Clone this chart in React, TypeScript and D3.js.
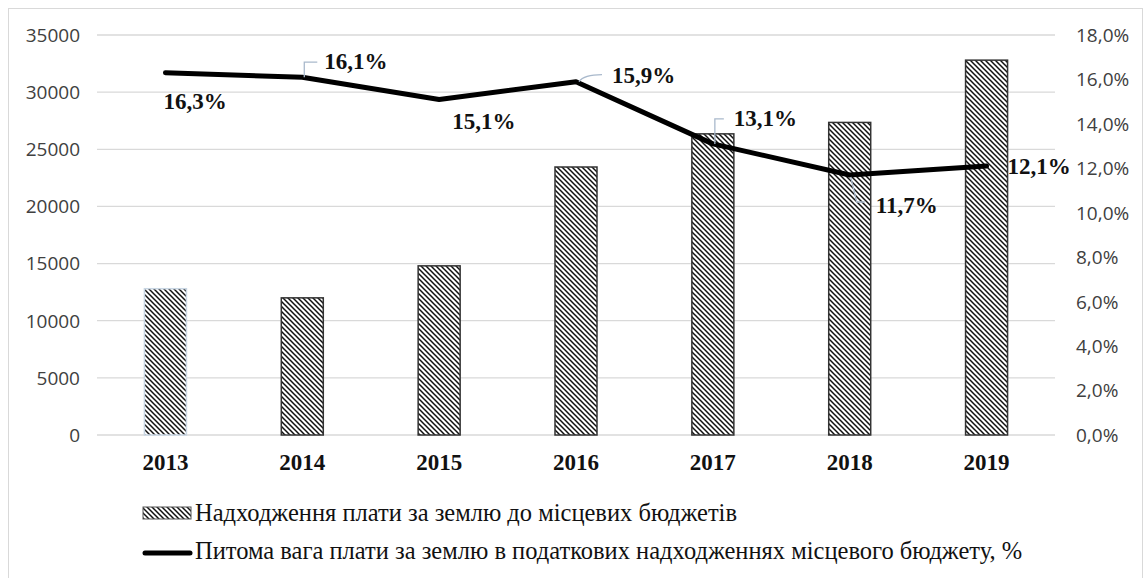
import React from "react";
import * as d3 from "d3";

const years = ["2013", "2014", "2015", "2016", "2017", "2018", "2019"];
const landPayments = [12800, 12000, 14800, 23450, 26350, 27350, 32800];
const shares = [16.3, 16.1, 15.1, 15.9, 13.1, 11.7, 12.1];
const shareLabels = ["16,3%", "16,1%", "15,1%", "15,9%", "13,1%", "11,7%", "12,1%"];
const leftTicks = [0, 5000, 10000, 15000, 20000, 25000, 30000, 35000];
const rightTicks = [0, 2, 4, 6, 8, 10, 12, 14, 16, 18];
const legendLabels = [
  "Надходження плати за землю до місцевих бюджетів",
  "Питома вага плати за землю в податкових надходженнях місцевого бюджету, %",
];

// label placement (styling): dx, dy baseline offset, leader path relative to point
const labelStyle = [
  { dx: -2, dy: 36, leader: null },
  { dx: 22, dy: -8, leader: "M2,0 L2,-15 L15,-15" },
  { dx: 13, dy: 30, leader: null },
  { dx: 36, dy: 1, leader: "M3,0 Q8,-7 26,-7" },
  { dx: 21, dy: -18, leader: "M2,0 L2,-25 L11,-25" },
  { dx: 26, dy: 38, leader: "M1,2 L7,27 L15,27" },
  { dx: 21, dy: 8, leader: null },
];

const axisFont = "'Open Sans', sans-serif";
const serif = "'Times New Roman', Tinos, 'Liberation Serif', 'DejaVu Serif', serif";

export default function App() {
  const left = 97, right = 1055, top = 35, bottom = 435;
  const x = d3.scaleBand<string>().domain(years).range([left, right]).padding(0);
  const yL = d3.scaleLinear().domain([0, 35000]).range([bottom, top]);
  const yR = d3.scaleLinear().domain([0, 18]).range([bottom, top]);
  const barW = 42;
  const cx = (y: string) => (x(y) as number) + x.bandwidth() / 2;
  const line = d3
    .line<number>()
    .x((_, i) => cx(years[i]))
    .y((d) => yR(d));

  const axisStyle = { fontFamily: axisFont, fontSize: "19px" };
  const boldSerif = { fontFamily: serif, fontSize: "23px", fontWeight: 700 };
  const serifStyle = { fontFamily: serif, fontSize: "24.5px" };

  return (
    <svg
      width={1146}
      height={578}
      style={{ position: "absolute", left: 0, top: 0, display: "block", background: "#fff" }}
    >
      <defs>
        <pattern id="hatch" patternUnits="userSpaceOnUse" width={5} height={5}>
          <rect width={5} height={5} fill="#fff" />
          <path d="M-1,-1 L6,6 M-1,4 L1,6 M4,-1 L6,1" stroke="#111" strokeWidth={1.5} />
        </pattern>
      </defs>
      <rect x={8.5} y={8.5} width={1134} height={620} fill="#fff" stroke="#d9d9d9" />

      {leftTicks.map((t) => (
        <line key={"g" + t} x1={left} x2={right} y1={yL(t)} y2={yL(t)} stroke="#d9d9d9" strokeWidth={1.3} />
      ))}
      {leftTicks.map((t) => (
        <text key={"l" + t} x={80} y={yL(t)} dy="0.36em" textAnchor="end" style={axisStyle} fill="#404040">
          {t}
        </text>
      ))}
      {rightTicks.map((t) => (
        <text key={"r" + t} x={1076} y={yR(t)} dy="0.36em" textAnchor="start" style={axisStyle} fill="#404040">
          {t.toFixed(1).replace(".", ",") + "%"}
        </text>
      ))}

      {landPayments.map((v, i) => (
        <rect
          key={"b" + i}
          x={cx(years[i]) - barW / 2}
          y={yL(v)}
          width={barW}
          height={bottom - yL(v)}
          fill="url(#hatch)"
          stroke={i === 0 ? "#c9d6e3" : "#333"}
          strokeWidth={1.5}
        />
      ))}

      {years.map((y) => (
        <text key={"x" + y} x={cx(y)} y={470} textAnchor="middle" style={boldSerif} fill="#111">
          {y}
        </text>
      ))}

      <path
        d={line(shares) || ""}
        fill="none"
        stroke="#000"
        strokeWidth={5}
        strokeLinejoin="round"
        strokeLinecap="round"
      />

      {shares.map((v, i) => {
        const px = cx(years[i]);
        const py = yR(v);
        const s = labelStyle[i];
        return (
          <g key={"dl" + i}>
            {s.leader && (
              <path
                d={s.leader}
                transform={`translate(${px},${py})`}
                fill="none"
                stroke="#a9b9cc"
                strokeWidth={1.3}
              />
            )}
            <text x={px + s.dx} y={py + s.dy} textAnchor="start" style={boldSerif} fill="#111">
              {shareLabels[i]}
            </text>
          </g>
        );
      })}

      <rect x={143} y={507} width={48} height={12} fill="url(#hatch)" stroke="#555" strokeWidth={1} />
      <text x={195} y={521} style={serifStyle} fill="#111">
        {legendLabels[0]}
      </text>
      <line x1={145} x2={190} y1={553} y2={553} stroke="#000" strokeWidth={5} strokeLinecap="round" />
      <text x={195} y={559} style={serifStyle} fill="#111">
        {legendLabels[1]}
      </text>
    </svg>
  );
}
